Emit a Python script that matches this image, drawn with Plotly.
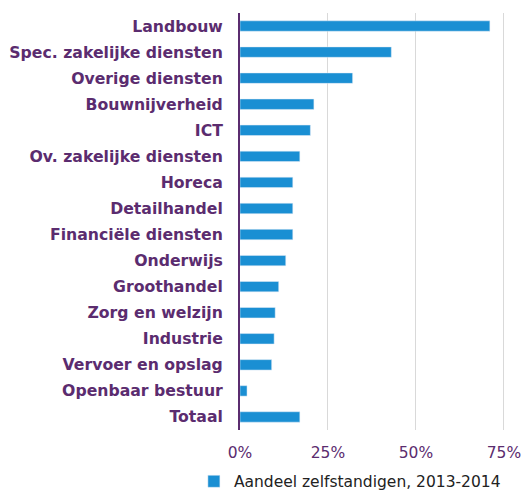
import plotly.graph_objects as go

categories = ["Landbouw", "Spec. zakelijke diensten", "Overige diensten", "Bouwnijverheid",
              "ICT", "Ov. zakelijke diensten", "Horeca", "Detailhandel",
              "Financiële diensten", "Onderwijs", "Groothandel", "Zorg en welzijn",
              "Industrie", "Vervoer en opslag", "Openbaar bestuur", "Totaal"]
values = [71, 43, 32, 21, 20, 17, 15, 15, 15, 13, 11, 10, 9.7, 9, 2, 17]
series_name = "Aandeel zelfstandigen, 2013-2014"
tick_vals = [0, 25, 50, 75]
tick_text = ["0%", "25%", "50%", "75%"]

purple = "#5b2c6f"
fig = go.Figure(go.Bar(
    y=categories, x=values, orientation="h", name=series_name,
    marker=dict(color="#1a8fd3"), showlegend=True,
))
fig.update_layout(
    width=523, height=491,
    margin=dict(l=240, r=18, t=13, b=61, autoexpand=False),
    paper_bgcolor="white", plot_bgcolor="white",
    font=dict(family="DejaVu Sans, Verdana, sans-serif", size=15, color=purple),
    bargap=0.6,
    showlegend=True,
    legend=dict(orientation="h", x=-0.174, xanchor="left", y=-0.124, yanchor="middle",
                font=dict(color="#222222", size=15.5), itemwidth=30),
    xaxis=dict(range=[0, 75.3], tickvals=tick_vals, ticktext=tick_text,
               showgrid=True, gridcolor="#d9d9d9", gridwidth=1,
               zeroline=False, showline=False, ticks="outside", ticklen=8, tickcolor="rgba(0,0,0,0)",
               tickfont=dict(color=purple, size=15.5), ticklabeloverflow="allow"),
    yaxis=dict(autorange="reversed", showline=True, linecolor=purple, linewidth=2,
               ticks="outside", ticklen=12, tickcolor="rgba(0,0,0,0)",
               tickfont=dict(family="DejaVu Sans, Verdana, sans-serif", size=15.7, color=purple, weight="bold")),
)
fig.write_html("out.html", config={"displayModeBar": False},
               post_script="document.body.style.margin='0';document.body.style.overflow='hidden';")
